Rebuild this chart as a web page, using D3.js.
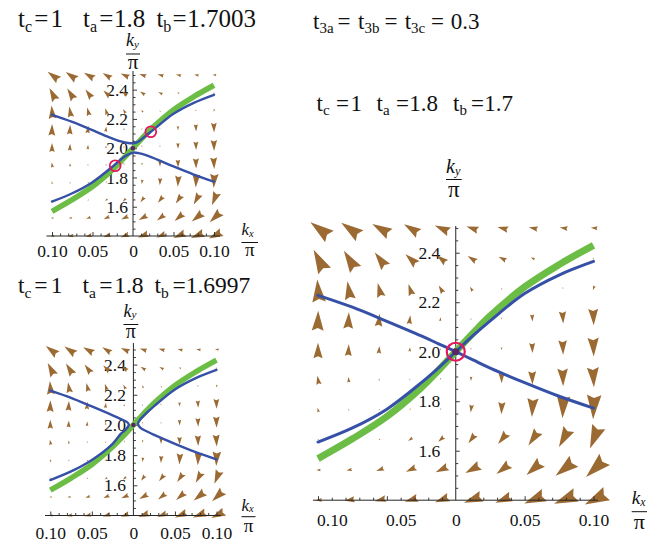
<!DOCTYPE html>
<html>
<head>
<meta charset="utf-8">
<script src="https://cdn.jsdelivr.net/npm/d3@7"></script>
<style>
  body { margin: 0; background: #fff; }
  svg { display: block; }
</style>
</head>
<body>
<svg id="fig" width="660" height="543"></svg>
<script>
// ---------- data ----------
// sampling grid of the vector field (10 × 10)
const gridKx = [-0.1, -0.0778, -0.0556, -0.0333, -0.0111, 0.0111, 0.0333, 0.0556, 0.0778, 0.1];
const gridKy = [2.5, 2.3778, 2.2556, 2.1333, 2.0111, 1.8889, 1.7667, 1.6444, 1.5222, 1.4];

// field components along kx (rows: top → bottom, cols: left → right)
const fieldU = [
  [-1.73, -1.67, -1.57, -1.33, -1.30, -1.05, -0.95, -0.80, -0.70, -0.60],
  [-1.00, -1.07, -1.00, -1.00, -0.83, -0.77, -0.67, -0.35, -0.15,  0.05],
  [-0.17, -0.27, -0.33, -0.33, -0.40, -0.25, -0.05,  0.03,  0.05, -0.15],
  [ 0.05,  0.07,  0.10,  0.10,  0.05,  0.02,  0.03,  0.05,  0.07,  0.05],
  [ 0.00,  0.05,  0.05,  0.03,  0.01,  0.02,  0.03,  0.03,  0.05,  0.05],
  [-0.15, -0.05,  0.00,  0.00,  0.00,  0.00,  0.02,  0.03,  0.05,  0.10],
  [-0.10, -0.05, -0.05, -0.05, -0.05, -0.10, -0.05, -0.10, -0.10, -0.10],
  [-0.10, -0.10, -0.15, -0.40, -0.50, -0.60, -0.80, -0.90, -0.90, -0.80],
  [-0.40, -0.50, -0.70, -0.90, -1.10, -1.30, -1.17, -1.33, -1.67, -1.70],
  [-0.60, -0.90, -1.00, -1.15, -1.25, -1.60, -1.43, -1.83, -2.00, -2.00]
];
// field components along ky
const fieldV = [
  [ 1.30,  1.17,  0.90,  0.83,  0.57,  0.35,  0.25,  0.18,  0.10,  0.05],
  [ 1.93,  1.70,  1.33,  0.93,  0.67,  0.50,  0.35,  0.15,  0.05,  0.08],
  [ 2.05,  1.63,  1.27,  1.00,  0.67,  0.40,  0.10, -0.05, -0.15, -0.40],
  [ 1.80,  1.50,  1.15,  0.80,  0.35,  0.05, -0.08, -0.65, -1.10, -1.50],
  [ 1.40,  1.05,  0.70,  0.40,  0.05, -0.05, -0.25, -0.90, -1.30, -1.70],
  [ 0.80,  0.50,  0.20,  0.08, -0.05, -0.40, -0.90, -1.20, -1.60, -1.80],
  [ 0.40,  0.15,  0.05, -0.05, -0.15, -0.70, -1.10, -1.70, -2.00, -2.20],
  [ 0.00, -0.05, -0.10, -0.30, -0.45, -0.80, -1.00, -1.30, -1.63, -2.00],
  [ 0.00, -0.10, -0.25, -0.40, -0.50, -0.70, -0.90, -1.17, -1.33, -1.60],
  [-0.05, -0.15, -0.25, -0.35, -0.45, -0.60, -0.57, -0.77, -0.80, -1.00]
];

// band curves (kx samples, ky values)
const curveKx = [-0.1, -0.075, -0.05, -0.025, -0.0125, 0, 0.0125, 0.025, 0.05, 0.075, 0.1];
const bandA   = [2.228, 2.18, 2.123, 2.064, 2.032, 2.0, 1.967, 1.934, 1.875, 1.82, 1.772];
const bandB   = [1.635, 1.692, 1.768, 1.875, 1.935, 2.0, 2.065, 2.125, 2.235, 2.31, 2.365];
const greenKy = [1.568, 1.648, 1.738, 1.855, 1.925, 2.0, 2.075, 2.145, 2.262, 2.352, 2.43];

// split branches for tb = 1.7003
const upper1 = [[-0.1, 2.228], [-0.075, 2.18], [-0.05, 2.123], [-0.03, 2.076], [-0.015, 2.046],
                [-0.006, 2.035], [0, 2.034], [0.006, 2.043], [0.0125, 2.07], [0.025, 2.125],
                [0.05, 2.235], [0.075, 2.31], [0.1, 2.365]];
const lower1 = [[-0.1, 1.635], [-0.075, 1.692], [-0.05, 1.768], [-0.025, 1.875], [-0.0125, 1.935],
                [-0.005, 1.96], [0.001, 1.97], [0.007, 1.966], [0.015, 1.955], [0.03, 1.922],
                [0.05, 1.875], [0.075, 1.82], [0.1, 1.772]];
// split branches for tb = 1.6997
const left2  = [[-0.1, 2.228], [-0.075, 2.18], [-0.05, 2.123], [-0.025, 2.064], [-0.014, 2.036],
                [-0.008, 2.02], [-0.0055, 2.002], [-0.007, 1.985], [-0.01, 1.966], [-0.015, 1.942],
                [-0.025, 1.875], [-0.05, 1.768], [-0.075, 1.692], [-0.1, 1.635]];
const right2 = [[0.1, 2.365], [0.075, 2.31], [0.05, 2.235], [0.025, 2.125], [0.014, 2.07],
                [0.008, 2.035], [0.0055, 2.008], [0.007, 1.99], [0.01, 1.975], [0.016, 1.958],
                [0.025, 1.934], [0.05, 1.875], [0.075, 1.82], [0.1, 1.772]];

// marked points
const circles1 = [[-0.022, 1.88], [0.022, 2.112]];
const circles3 = [[0, 2.0]];
const degeneracy = [0, 2.0];

// ticks
const yLabelVals = [1.6, 1.8, 2.0, 2.2, 2.4];
const yMinorVals = d3.range(1.45, 2.501, 0.05).map(v => +v.toFixed(2));
const xLabelVals = [-0.1, -0.05, 0, 0.05, 0.1];
const xLabelText = ["0.10", "0.05", "0", "0.05", "0.10"];
const xMinorVals = d3.range(-0.1, 0.1001, 0.01).map(v => +v.toFixed(2));

// parameter captions
const caption1 = [["c", "1"], ["a", "1.8"], ["b", "1.7003"]];
const caption2 = [["c", "1"], ["a", "1.8"], ["b", "1.6997"]];
const caption3 = [["c", "1"], ["a", "1.8"], ["b", "1.7"]];
const hopping3 = [["3a", ""], ["3b", ""], ["3c", "0.3"]];

// ---------- font choice: first installed serif face ----------
function pickSerif() {
  const ctx = document.createElement("canvas").getContext("2d");
  const probe = "mmmmwwwwiiiill0123456789.tkπ";
  const width = f => { ctx.font = "40px " + f; return ctx.measureText(probe).width; };
  const baseM = width("monospace"), baseS = width("sans-serif");
  const names = ["Liberation Serif", "Times New Roman", "Tinos", "Nimbus Roman", "DejaVu Serif",
                 "Noto Serif", "FreeSerif", "Times"];
  for (const n of names) {
    if (width(`"${n}", monospace`) !== baseM || width(`"${n}", sans-serif`) !== baseS) return `"${n}"`;
  }
  return "serif";
}
const FONT = pickSerif() + ", serif";

// ---------- drawing ----------
const C = {
  arrow: "#9b6a33", blue: "#3550a6", green: "#6cbd45",
  ring: "#e3185c", dot: "#5a2467", axis: "#262626", text: "#111"
};
const svg = d3.select("#fig");

const panels = [
  { xr: [52, 214], yr: [236, 75], hAxis: [46.5, 220], vTop: 71, fs: 17.5, yGap: 5, xBase: 21,
    leftStart: false, unit: 6.4, green: 5.5, blue: 2.4, ringR: 5.4, ringW: 1.8, dotR: 2.3,
    branches: [upper1, lower1], rings: circles1,
    ky: { x0: 126, kBase: 46, barY: 54, barEnd: 140, piBase: 68.5, ks: 18, ps: 21, sub: 1.5 },
    kx: { x0: 241.5, kBase: 235, barY: 242.5, barEnd: 258, piBase: 255.5, ks: 17, ps: 19, sub: 1.5 } },
  { xr: [50.3, 216.5], yr: [515.5, 349.5], hAxis: [45, 221], vTop: 343, fs: 17.5, yGap: 7.5, xBase: 23.5,
    leftStart: false, unit: 6.5, green: 5.5, blue: 2.4, ringR: 0, ringW: 0, dotR: 2.3,
    branches: [left2, right2], rings: [],
    ky: { x0: 123.5, kBase: 316.5, barY: 324.5, barEnd: 138.3, piBase: 338, ks: 18, ps: 20, sub: 1.5 },
    kx: { x0: 241.5, kBase: 510.5, barY: 516.7, barEnd: 255.5, piBase: 532, ks: 17, ps: 19, sub: 1.5 } },
  { xr: [318, 593.5], yr: [500.2, 228], hAxis: [313, 598], vTop: 226, fs: 17.5, yGap: 15.5, xBase: 25.7,
    leftStart: true, unit: 11, green: 7, blue: 3, ringR: 9, ringW: 2.2, dotR: 3.6,
    branches: null, rings: circles3,
    ky: { x0: 446, kBase: 172.5, barY: 179.5, barEnd: 461.7, piBase: 197, ks: 20, ps: 23, sub: 2 },
    kx: { x0: 631.7, kBase: 504, barY: 511.7, barEnd: 647, piBase: 529, ks: 19, ps: 22, sub: 2 } }
];

function fraction(g, f, sub) {
  const t = g.append("text").attr("x", f.x0).attr("y", f.kBase)
    .attr("font-size", f.ks).attr("font-style", "italic").attr("fill", C.text);
  t.append("tspan").text("k");
  t.append("tspan").attr("font-size", f.ks * 0.62).attr("dy", f.sub).text(sub);
  g.append("line").attr("x1", f.x0).attr("x2", f.barEnd).attr("y1", f.barY).attr("y2", f.barY)
    .attr("stroke", C.text).attr("stroke-width", 1);
  g.append("text").attr("x", (f.x0 + f.barEnd) / 2).attr("y", f.piBase).attr("text-anchor", "middle")
    .attr("font-size", f.ps).attr("fill", C.text).text("π");
}

function arrowPath(px, py, dx, dy) {
  let L = Math.hypot(dx, dy);
  let ux = 1, uy = 0;
  if (L > 1e-6) { ux = dx / L; uy = dy / L; }
  L = Math.max(L, 1.8);
  const nx = -uy, ny = ux;
  const tx = px + ux * 0.4 * L, ty = py + uy * 0.4 * L;
  const bx = tx - ux * L, by = ty - uy * L;
  const w = 0.3 * L;
  const mx = tx - ux * 0.87 * L, my = ty - uy * 0.87 * L;
  return `M${tx},${ty}L${bx + nx * w},${by + ny * w}L${mx},${my}L${bx - nx * w},${by - ny * w}Z`;
}

panels.forEach(p => {
  const g = svg.append("g");
  const x = d3.scaleLinear([-0.1, 0.1], p.xr);
  const y = d3.scaleLinear([1.4, 2.5], p.yr);
  const x0 = x(0), yb = y(1.4);

  // tick labels
  const yLab = g.append("g").attr("transform", `translate(${x0},0)`)
    .call(d3.axisLeft(y).tickValues(yLabelVals).tickFormat(d3.format(".1f")).tickSize(0).tickPadding(p.yGap));
  const xLab = g.append("g").attr("transform", `translate(0,${yb})`)
    .call(d3.axisBottom(x).tickValues(xLabelVals).tickFormat((d, i) => xLabelText[i])
      .tickSize(0).tickPadding(p.xBase - 0.71 * p.fs));
  [yLab, xLab].forEach(a => {
    a.select(".domain").remove();
    a.attr("font-size", p.fs);
    a.selectAll("text").attr("fill", C.text);
  });
  if (p.leftStart) {
    xLab.selectAll(".tick text").filter(d => d < 0).attr("text-anchor", "start").attr("x", -1.5);
  }

  // vector field
  const cells = [];
  gridKy.forEach((ky, j) => gridKx.forEach((kx, i) => cells.push({ kx, ky, u: fieldU[j][i], v: fieldV[j][i] })));
  g.append("g").selectAll("path").data(cells).join("path")
    .attr("d", c => arrowPath(x(c.kx), y(c.ky), c.u * p.unit, -c.v * p.unit))
    .attr("fill", C.arrow);

  // axes lines and ticks
  const ax = g.append("g").attr("stroke", C.axis).attr("stroke-width", 1);
  ax.append("line").attr("x1", x0).attr("x2", x0).attr("y1", p.vTop).attr("y2", yb);
  ax.append("line").attr("x1", p.hAxis[0]).attr("x2", p.hAxis[1]).attr("y1", yb).attr("y2", yb);
  const tickAxis = (axisFn, scale, vals, size, tr) => {
    const a = g.append("g").attr("transform", tr)
      .call(axisFn(scale).tickValues(vals).tickFormat("").tickSizeInner(size).tickSizeOuter(0));
    a.select(".domain").remove();
    a.selectAll("line").attr("stroke", C.axis).attr("stroke-width", 0.9);
  };
  const isMajorY = v => yLabelVals.some(t => Math.abs(t - v) < 1e-6);
  const isMajorX = v => xLabelVals.some(t => Math.abs(t - v) < 1e-6);
  tickAxis(d3.axisLeft, y, yMinorVals.filter(v => !isMajorY(v)), -2.5, `translate(${x0},0)`);
  tickAxis(d3.axisLeft, y, yLabelVals, -4, `translate(${x0},0)`);
  tickAxis(d3.axisBottom, x, xMinorVals.filter(v => !isMajorX(v)), -2.5, `translate(0,${yb})`);
  tickAxis(d3.axisBottom, x, xLabelVals.filter(v => v !== 0), -4, `translate(0,${yb})`);

  // curves
  const line = d3.line().x(d => x(d[0])).y(d => y(d[1])).curve(d3.curveCatmullRom.alpha(0.5));
  g.append("path").attr("d", line(curveKx.map((k, i) => [k, greenKy[i]])))
    .attr("fill", "none").attr("stroke", C.green).attr("stroke-width", p.green);
  const blueSets = p.branches || [curveKx.map((k, i) => [k, bandA[i]]), curveKx.map((k, i) => [k, bandB[i]])];
  blueSets.forEach(b => g.append("path").attr("d", line(b))
    .attr("fill", "none").attr("stroke", C.blue).attr("stroke-width", p.blue).attr("stroke-linecap", "round"));

  // markers
  g.append("circle").attr("cx", x(degeneracy[0])).attr("cy", y(degeneracy[1])).attr("r", p.dotR).attr("fill", C.dot);
  g.selectAll("circle.ring").data(p.rings).join("circle").attr("class", "ring")
    .attr("cx", d => x(d[0])).attr("cy", d => y(d[1])).attr("r", p.ringR)
    .attr("fill", "none").attr("stroke", C.ring).attr("stroke-width", p.ringW);

  // axis labels
  fraction(g, p.ky, "y");
  fraction(g, p.kx, "x");
});

// ---------- captions ----------
function caption(items, pos, fs, subFs, shift) {
  items.forEach((it, k) => {
    const t = svg.append("text").attr("x", pos.t[k]).attr("y", pos.base)
      .attr("font-size", fs).attr("fill", C.text);
    t.append("tspan").text("t");
    t.append("tspan").attr("font-size", subFs).attr("dy", shift).text(it[0]);
    svg.append("text").attr("x", pos.eq[k]).attr("y", pos.base)
      .attr("font-size", fs).attr("fill", C.text).text("=");
    if (it[1]) {
      svg.append("text").attr("x", pos.val[k]).attr("y", pos.base)
        .attr("font-size", fs).attr("fill", C.text).text(it[1]);
    }
  });
}
caption(caption1, { base: 26.7, t: [18, 83, 156.4], eq: [34.2, 99.2, 172.5], val: [50.5, 113.9, 187.2] }, 25, 16, 5);
caption(caption2, { base: 293.3, t: [18, 82.5, 154.5], eq: [34.2, 99.2, 172.5], val: [50.8, 114.2, 185.7] }, 23.5, 15.5, 5);
caption(caption3, { base: 110.7, t: [316.5, 376.5, 453], eq: [336, 396, 471], val: [350.5, 409.2, 484.2] }, 23, 15, 4.5);
caption(hopping3, { base: 29.3, t: [313, 358, 404.7], eq: [337.6, 384.4, 431], val: [0, 0, 450.7] }, 23, 15, 4);

// one serif face for every label
svg.selectAll("text").attr("font-family", FONT).style("font-family", FONT);
svg.selectAll("g").filter(function () { return this.hasAttribute("font-family"); }).attr("font-family", FONT);
</script>
</body>
</html>
